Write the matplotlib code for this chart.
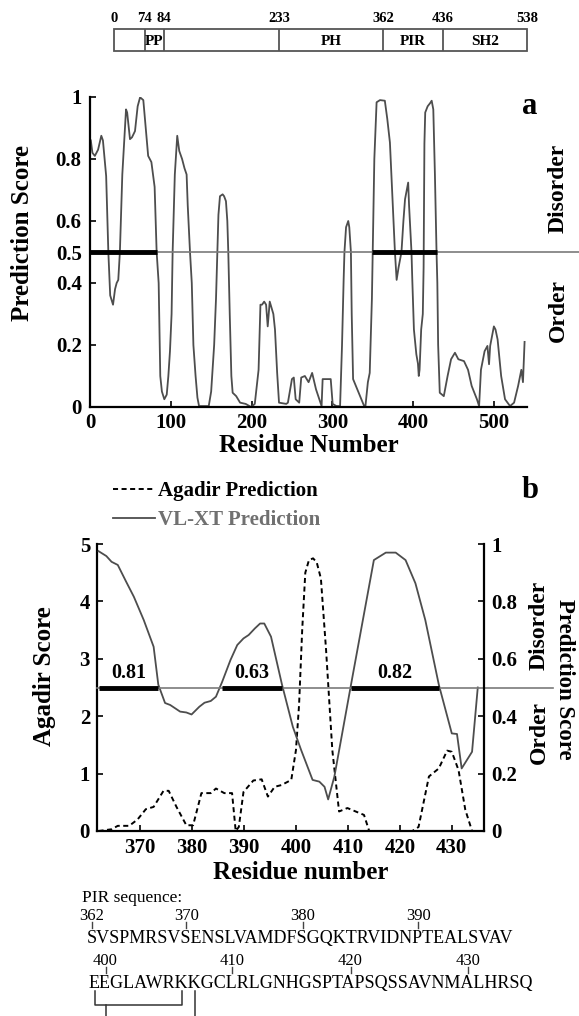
import numpy as np
import matplotlib.pyplot as plt
from matplotlib.patches import Rectangle
from matplotlib.font_manager import FontProperties

W, H = 579, 1016
plt.rcParams['font.family'] = ['Liberation Serif', 'DejaVu Serif']
plt.rcParams['font.weight'] = 'bold'
plt.rcParams['axes.labelweight'] = 'bold'

# domain map of the protein (the schematic is not drawn to scale)
domain_bounds = [0, 74, 84, 233, 362, 436, 538]
domain_names = ['', 'PP', '', 'PH', 'PIR', 'SH2']
domain_px = [114, 145, 164, 279, 383, 443, 527]

# panel a: VL-XT over the whole sequence
a_residue = [1, 3, 6, 10, 14, 16, 20, 22.7, 25, 28.5,
             31, 33, 35, 37, 40, 44.6, 46, 49.5, 52, 55.7,
             59, 62, 66, 69, 72, 76, 80, 82.5, 85, 87,
             89, 92, 95, 97, 99, 101, 102.3, 105, 108, 110.5,
             114, 117, 119.6, 121, 123.8, 126, 128, 130.7, 133, 135,
             147, 150, 153.7, 156, 157.6, 159, 160.9, 164.2, 166, 168.3,
             170, 171.2, 173, 175, 176.6, 181, 185.8, 192.7, 199.5, 204,
             208.7, 211, 213, 215.6, 218, 220, 222.5, 227, 229, 231.7,
             234, 243, 245, 250, 252.3, 254.6, 259, 261.5, 266, 270.6,
             275, 279.8, 286.7, 288, 291, 298, 300.4, 305, 309.6, 312,
             314, 315, 317, 319.7, 321, 323, 324, 325.7, 332.6, 339.4,
             341, 344, 346.3, 349, 350, 352, 354.8, 359, 365, 368,
             371.3, 374, 377.5, 379.6, 382, 385.6, 388, 390, 393.9, 395,
             398, 399, 401, 404, 406, 407, 408, 410, 412, 413,
             414, 415, 418, 421, 423, 425, 427, 429, 430, 431,
             433, 438, 442.7, 447, 451.8, 456, 463, 468, 472.5, 479,
             481.7, 484, 488.5, 492, 494, 495.4, 500, 502, 504.6, 509,
             513.8, 520, 525, 530, 534, 536, 538]
a_score = [0.86, 0.82, 0.81, 0.83, 0.875, 0.86, 0.745, 0.50, 0.36, 0.33,
           0.38, 0.40, 0.41, 0.50, 0.75, 0.96, 0.95, 0.864, 0.87, 0.89,
           0.97, 0.999, 0.99, 0.90, 0.81, 0.79, 0.71, 0.50, 0.40, 0.10,
           0.05, 0.025, 0.04, 0.10, 0.18, 0.30, 0.50, 0.75, 0.875, 0.826,
           0.80, 0.77, 0.75, 0.65, 0.50, 0.40, 0.20, 0.10, 0.03, 0.003,
           0.003, 0.05, 0.20, 0.35, 0.50, 0.62, 0.68, 0.686, 0.68, 0.664,
           0.60, 0.50, 0.30, 0.10, 0.046, 0.035, 0.014, 0.01, 0.0, 0.01,
           0.12, 0.33, 0.33, 0.34, 0.33, 0.26, 0.34, 0.30, 0.25, 0.11,
           0.014, 0.01, 0.014, 0.09, 0.095, 0.025, 0.014, 0.095, 0.10, 0.08,
           0.11, 0.057, 0.003, 0.09, 0.09, 0.09, 0.01, 0.003, 0.003, 0.20,
           0.41, 0.50, 0.58, 0.60, 0.58, 0.50, 0.30, 0.09, 0.046, 0.003,
           0.003, 0.08, 0.11, 0.35, 0.50, 0.80, 0.983, 0.99, 0.988, 0.93,
           0.853, 0.70, 0.50, 0.41, 0.45, 0.50, 0.60, 0.67, 0.724, 0.65,
           0.50, 0.41, 0.25, 0.17, 0.14, 0.10, 0.12, 0.25, 0.30, 0.45,
           0.85, 0.95, 0.97, 0.98, 0.988, 0.96, 0.75, 0.50, 0.40, 0.20,
           0.046, 0.035, 0.10, 0.154, 0.175, 0.154, 0.148, 0.12, 0.068, 0.025,
           0.003, 0.12, 0.18, 0.197, 0.138, 0.197, 0.26, 0.25, 0.218, 0.10,
           0.025, 0.003, 0.014, 0.068, 0.12, 0.08, 0.21]
a_disorder_spans = [(0, 83), (349, 429)]

# panel b: PIR region
b_vlxt_res = [362, 363.5, 364.5, 365.7, 367.3, 368.8, 370.7, 372.6, 373.5, 374.8,
              375.8, 377.7, 378.9, 379.9, 381.4, 382.4, 383.6, 384.6, 385.8, 387.4,
              388.7, 389.9, 390.9, 392.1, 393.1, 393.9, 395.2, 397.3, 399.4, 401.0,
              403.2, 404.5, 405.5, 406.2, 407.4, 410.6, 415.0, 417.3, 419.2, 421.1,
              423.0, 424.9, 427.5, 430.0, 431.0, 431.9, 433.9, 435.0]
b_vlxt_score = [0.975, 0.958, 0.938, 0.927, 0.869, 0.816, 0.735, 0.642, 0.51, 0.446,
                0.439, 0.416, 0.413, 0.406, 0.433, 0.447, 0.453, 0.468, 0.52, 0.596,
                0.648, 0.671, 0.683, 0.706, 0.723, 0.723, 0.677, 0.511, 0.363, 0.282,
                0.178, 0.172, 0.154, 0.11, 0.19, 0.51, 0.944, 0.97, 0.97, 0.944,
                0.863, 0.735, 0.51, 0.34, 0.338, 0.218, 0.276, 0.50]
b_agadir_res = [362, 364.5, 365.7, 367.9, 369.5, 371.1, 372.6, 374.5, 375.5, 377,
                378.9, 380.2, 381.8, 383.6, 384.6, 386.2, 387.7, 388.4, 389, 389.9,
                391.8, 393.4, 394.6, 395.9, 397.2, 399.1, 400.0, 400.6, 401.2, 401.8,
                402.5, 403.3, 404.0, 404.8, 405.8, 407.0, 408.3, 409.9, 411.5, 413.1,
                414.1, 422.4, 423.6, 425.6, 427.5, 429.1, 430.0, 431.3, 432.6, 433.9]
b_agadir_score = [0.0, 0.03, 0.09, 0.09, 0.2, 0.38, 0.42, 0.70, 0.70, 0.42,
                  0.10, 0.10, 0.66, 0.66, 0.74, 0.66, 0.66, 0.0, 0.07, 0.68,
                  0.88, 0.9, 0.6, 0.77, 0.80, 0.89, 1.41, 2.2, 3.5, 4.5,
                  4.72, 4.75, 4.68, 4.4, 3.15, 1.41, 0.34, 0.40, 0.34, 0.28,
                  0.0, 0.0, 0.07, 0.95, 1.09, 1.40, 1.38, 1.06, 0.37, 0.0]
b_spans = [(362, 373.5), (385.8, 397.3), (410.6, 427.5)]
b_span_labels = ['0.81', '0.63', '0.82']

pir_start = 362
pir_line1 = 'SVSPMRSVSENSLVAMDFSGQKTRVIDNPTEALSVAV'
pir_line2 = 'EEGLAWRKKGCLRLGNHGSPTAPSQSSAVNMALHRSQ'
pir_marks1 = [362, 370, 380, 390]
pir_marks2 = [400, 410, 420, 430]

curve_col = '#4d4d4d'
thr_col = '#7a7a7a'
tick_fs = 15
label_fs = 18

fig = plt.figure(figsize=(W / 100, H / 100), dpi=100)


def px_axes(left, top, right, bottom):
    return fig.add_axes([left / W, 1 - bottom / H, (right - left) / W, (bottom - top) / H])


# ---- domain bar
ax_d = px_axes(domain_px[0], 29, domain_px[-1], 51)
ax_d.set_xscale('function', functions=(lambda x: np.interp(x, domain_bounds, domain_px),
                                       lambda p: np.interp(p, domain_px, domain_bounds)))
ax_d.set_xlim(0, 538)
ax_d.set_ylim(0, 1)
ax_d.axis('off')
ax_d.add_patch(Rectangle((0, 0), 538, 1, fill=False, ec='#555555', lw=1.3, clip_on=False))
for b in domain_bounds[1:-1]:
    ax_d.plot([b, b], [0, 1], color='#555555', lw=1.3)
for b in domain_bounds:
    ax_d.text(b, 1.2, str(b), ha='center', va='bottom', fontsize=10.5)
for i, name in enumerate(domain_names):
    if name:
        mid = np.interp((domain_px[i] + domain_px[i + 1]) / 2, domain_px, domain_bounds)
        ax_d.text(mid, 0.45, name, ha='center', va='center', fontsize=11)

# ---- panel a
ax_a = px_axes(90, 97, 527, 407)
ax_a.plot(a_residue, a_score, color=curve_col, lw=1.3)
ax_a.axhline(0.5, xmin=0, xmax=(579 - 90) / 437, color=thr_col, lw=1.2, clip_on=False)
for s, e in a_disorder_spans:
    ax_a.plot([s, e], [0.5, 0.5], color='black', lw=3.5, solid_capstyle='butt')
ax_a.set_xlim(0, 541)
ax_a.set_ylim(0, 1)
ax_a.set_yticks([0, 0.2, 0.4, 0.5, 0.6, 0.8, 1])
ax_a.set_yticklabels(['0', '0.2', '0.4', '0.5', '0.6', '0.8', '1'])
ax_a.set_xticks(range(0, 501, 100))
for side in ['top', 'right']:
    ax_a.spines[side].set_visible(False)
for side in ['left', 'bottom']:
    ax_a.spines[side].set_linewidth(1.6)
ax_a.tick_params(direction='in', length=4, width=1.2, labelsize=tick_fs, pad=6)
ax_a.tick_params(axis='x', pad=4)
ax_a.set_ylabel('Prediction Score', fontsize=label_fs)
ax_a.yaxis.set_label_coords(-0.128, 0.56)
ax_a.set_xlabel('Residue Number', fontsize=label_fs)
ax_a.xaxis.set_label_coords(0.5, -0.088)

# ---- panel b
ax_b = px_axes(97, 544, 484, 831)
ax_b2 = ax_b.twinx()
ag_line, = ax_b.plot(b_agadir_res, b_agadir_score, color='black', lw=1.4,
                     linestyle=(0, (2.6, 1.8)), label='Agadir Prediction')
vl_line, = ax_b2.plot(b_vlxt_res, b_vlxt_score, color=curve_col, lw=1.3,
                      label='VL-XT Prediction')
ax_b2.axhline(0.5, xmin=0, xmax=(553 - 97) / 387, color=thr_col, lw=1.2, clip_on=False)
for (s, e), lab in zip(b_spans, b_span_labels):
    ax_b2.plot([s, e], [0.5, 0.5], color='black', lw=3.5, solid_capstyle='butt')
    ax_b2.text((s + e) / 2, 0.515, lab, ha='center', va='bottom', fontsize=14.5)
ax_b.set_xlim(361.7, 436.2)
ax_b.set_ylim(0, 5)
ax_b2.set_ylim(0, 1)
ax_b.set_xticks(range(370, 431, 10))
ax_b.set_yticks(range(0, 6))
ax_b2.set_yticks([0, 0.2, 0.4, 0.6, 0.8, 1])
ax_b2.set_yticklabels(['0', '0.2', '0.4', '0.6', '0.8', '1'])
for a in (ax_b, ax_b2):
    a.spines['top'].set_visible(False)
    for side in ['left', 'bottom', 'right']:
        a.spines[side].set_linewidth(1.6)
    a.tick_params(direction='in', length=4, width=1.2, labelsize=tick_fs, pad=5)
ax_b.spines['right'].set_visible(False)
ax_b2.spines['left'].set_visible(False)
ax_b2.spines['bottom'].set_visible(False)
ax_b.set_ylabel('Agadir Score', fontsize=label_fs)
ax_b.yaxis.set_label_coords(-0.105, 0.54)
ax_b2.set_ylabel('Prediction Score', fontsize=16.5, rotation=270, va='center')
ax_b2.yaxis.set_label_coords(1.208, 0.53)
ax_b.set_xlabel('Residue number', fontsize=label_fs)
ax_b.xaxis.set_label_coords(0.527, -0.105)

leg = fig.legend(handles=[ag_line, vl_line], loc='upper left',
                 bbox_to_anchor=(113 / W, 1 - 481 / H), frameon=False,
                 fontsize=15, handlelength=2.0, handletextpad=0.15,
                 labelspacing=0.45, borderpad=0, borderaxespad=0)
leg.get_texts()[1].set_color('#707070')

# ---- overlay for free text, in pixel coordinates
ax_o = fig.add_axes([0, 0, 1, 1])
ax_o.set_xlim(0, W)
ax_o.set_ylim(H, 0)
ax_o.axis('off')
ax_o.patch.set_alpha(0)

ax_o.text(530, 107, 'a', fontsize=22, ha='center', va='center')
ax_o.text(558, 188, 'Disorder', fontsize=17, rotation=90, ha='center', va='center')
ax_o.text(558, 310, 'Order', fontsize=17, rotation=90, ha='center', va='center')
ax_o.text(530, 490, 'b', fontsize=22, ha='center', va='center')
ax_o.text(539, 625, 'Disorder', fontsize=17, rotation=90, ha='center', va='center')
ax_o.text(539, 732, 'Order', fontsize=17, rotation=90, ha='center', va='center')

# PIR sequence block
renderer = fig.canvas.get_renderer()
seq_fp = FontProperties(family='Liberation Serif', weight='normal', size=10)
w10 = renderer.get_text_width_height_descent(pir_line1, seq_fp, ismath=False)[0]
seq_fp.set_size(10 * 428 / w10)


def char_x(x0, line, idx):
    pre = renderer.get_text_width_height_descent(line[:idx], seq_fp, ismath=False)[0] if idx else 0
    cw = renderer.get_text_width_height_descent(line[idx], seq_fp, ismath=False)[0]
    return x0 + pre + cw / 2


ax_o.text(82, 902, 'PIR sequence:', fontsize=12.5, fontweight='normal', ha='left', va='baseline')
x1, x2 = 87, 89
ax_o.text(x1, 943, pir_line1, fontproperties=seq_fp, ha='left', va='baseline')
ax_o.text(x2, 988, pir_line2, fontproperties=seq_fp, ha='left', va='baseline')
for n in pir_marks1:
    cx = char_x(x1, pir_line1, n - pir_start)
    ax_o.text(cx, 920, str(n), fontsize=12, fontweight='normal', ha='center', va='baseline')
    ax_o.plot([cx, cx], [922, 928], color='#444444', lw=1)
start2 = pir_start + len(pir_line1)
for n in pir_marks2:
    cx = char_x(x2, pir_line2, n - start2)
    ax_o.text(cx, 965, str(n), fontsize=12, fontweight='normal', ha='center', va='baseline')
    ax_o.plot([cx, cx], [967, 973], color='#444444', lw=1)

# brackets below line 2
e0 = char_x(x2, pir_line2, 0)
e1 = char_x(x2, pir_line2, 1)
k7 = char_x(x2, pir_line2, 7)
k8 = char_x(x2, pir_line2, 8)
ax_o.plot([e0, e0, k7, k7], [991, 1005, 1005, 991], color='#333333', lw=1.1)
ax_o.plot([e1, e1], [1005, 1016], color='#333333', lw=1.1)
ax_o.plot([k8, k8], [991, 1016], color='#333333', lw=1.1)

fig.savefig('out.png', dpi=100)
